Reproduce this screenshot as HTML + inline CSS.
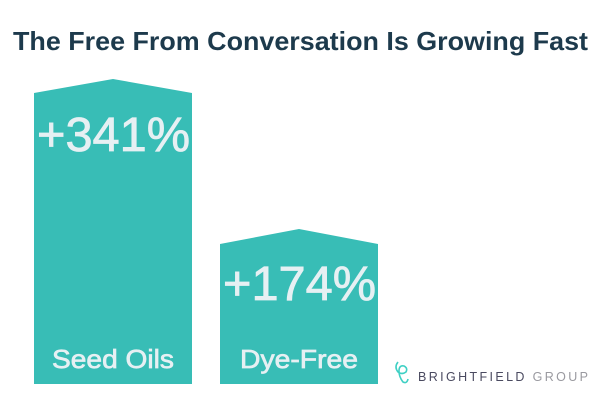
<!DOCTYPE html>
<html><head><style>
body{margin:0;width:600px;height:400px;background:#fff;overflow:hidden;font-family:"Liberation Sans",sans-serif}
</style></head><body>
<svg width="600" height="400" xmlns="http://www.w3.org/2000/svg">
<text x="13" y="50" textLength="575" lengthAdjust="spacingAndGlyphs" font-family="Liberation Sans" font-weight="bold" font-size="26" fill="#1d3a4c">The Free From Conversation Is Growing Fast</text>
<polygon points="34,93 113,79 192,93 192,384 34,384" fill="#38bdb6"/>
<polygon points="220,244 299,229 378,244 378,384 220,384" fill="#38bdb6"/>
<text x="37" y="151" textLength="153" lengthAdjust="spacingAndGlyphs" font-size="48" fill="#e6f0f3" stroke="#e6f0f3" stroke-width="0.8">+341%</text>
<text x="223" y="300" textLength="153" lengthAdjust="spacingAndGlyphs" font-size="48" fill="#e6f0f3" stroke="#e6f0f3" stroke-width="0.8">+174%</text>
<text x="52" y="368" textLength="122" lengthAdjust="spacingAndGlyphs" font-size="26" fill="#e6f0f3" stroke="#e6f0f3" stroke-width="0.7">Seed Oils</text>
<text x="240" y="368" textLength="118" lengthAdjust="spacingAndGlyphs" font-size="26" fill="#e6f0f3" stroke="#e6f0f3" stroke-width="0.7">Dye-Free</text>
<g fill="none" stroke="#3fd0c4" stroke-width="1.6">
<path d="M398,362 q-4,5 0,10 q4,3 8,0 q2,-4 -2,-6 q-5,-1 -5,5 q0,6 4,11 q4,2 5,-3"/>
</g>
<text x="418" y="381" textLength="170" lengthAdjust="spacing" font-size="12.5" fill="#4a4a60">BRIGHTFIELD <tspan fill="#9a9aa0">GROUP</tspan></text>
</svg>
</body></html>
